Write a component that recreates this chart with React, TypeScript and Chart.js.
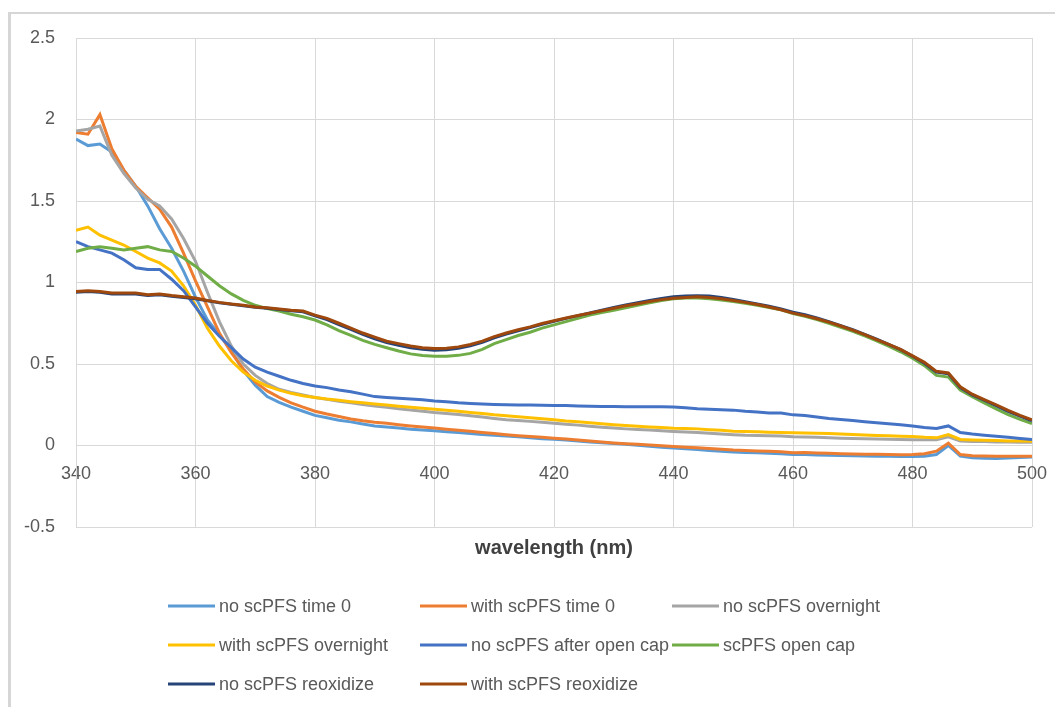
import React, { useEffect, useRef } from "react";
import { Chart, registerables } from "chart.js";

Chart.register(...registerables);

// ---------- DATA ----------
const wavelengths = [
  340, 342, 344, 346, 348, 350, 352, 354, 356,
  358, 360, 362, 364, 366, 368, 370, 372, 374,
  376, 378, 380, 382, 384, 386, 388, 390, 392,
  394, 396, 398, 400, 402, 404, 406, 408, 410,
  412, 414, 416, 418, 420, 422, 424, 426, 428,
  430, 432, 434, 436, 438, 440, 442, 444, 446,
  448, 450, 452, 454, 456, 458, 460, 462, 464,
  466, 468, 470, 472, 474, 476, 478, 480, 482,
  484, 486, 488, 490, 492, 494, 496, 498, 500,
];

const noScPFSTime0 = [
  1.88, 1.84, 1.85, 1.80, 1.69, 1.59, 1.47, 1.33, 1.21,
  1.07, 0.91, 0.77, 0.68, 0.58, 0.46, 0.37, 0.30, 0.265,
  0.235, 0.21, 0.185, 0.17, 0.155, 0.145, 0.132, 0.12, 0.113,
  0.107, 0.1, 0.095, 0.09, 0.085, 0.08, 0.073, 0.068, 0.063,
  0.058, 0.053, 0.047, 0.042, 0.038, 0.033, 0.027, 0.022, 0.017,
  0.012, 0.007, 0.002, -0.004, -0.01, -0.015, -0.02, -0.025, -0.03,
  -0.035, -0.04, -0.043, -0.045, -0.047, -0.05, -0.055, -0.055, -0.058,
  -0.06, -0.062, -0.063, -0.064, -0.066, -0.066, -0.068, -0.068, -0.066,
  -0.055, 0.0, -0.065, -0.075, -0.078, -0.08, -0.076, -0.073, -0.07,
];

const withScPFSTime0 = [
  1.92, 1.91, 2.03, 1.82, 1.69, 1.59, 1.52, 1.45, 1.34,
  1.18, 1.01, 0.85, 0.69, 0.57, 0.47, 0.39, 0.335, 0.295,
  0.262, 0.235, 0.21, 0.193, 0.178, 0.163, 0.152, 0.143, 0.136,
  0.128, 0.12, 0.113, 0.107, 0.1, 0.093, 0.087, 0.08, 0.073,
  0.066, 0.06, 0.055, 0.05, 0.045, 0.04, 0.034, 0.028, 0.022,
  0.016, 0.011, 0.007, 0.003, -0.002, -0.006, -0.01, -0.014, -0.018,
  -0.023, -0.028, -0.031, -0.034, -0.036, -0.038, -0.044, -0.043, -0.046,
  -0.048, -0.05, -0.052, -0.053, -0.054, -0.055, -0.056, -0.055, -0.05,
  -0.035, 0.015, -0.055, -0.063, -0.065, -0.066, -0.066, -0.066, -0.066,
];

const noScPFSOvernight = [
  1.93, 1.94, 1.96, 1.78, 1.67, 1.58, 1.51, 1.47, 1.39,
  1.27, 1.13, 0.94, 0.76, 0.61, 0.5, 0.43, 0.38, 0.345,
  0.325, 0.31, 0.295, 0.283, 0.272, 0.262, 0.252, 0.243, 0.234,
  0.225, 0.218, 0.21, 0.202, 0.196, 0.19, 0.182, 0.175, 0.166,
  0.158, 0.153, 0.148, 0.142, 0.137, 0.13, 0.125, 0.118, 0.112,
  0.107, 0.102, 0.098, 0.095, 0.09, 0.086, 0.083, 0.08, 0.075,
  0.07, 0.066, 0.063, 0.062, 0.06, 0.058, 0.054, 0.052, 0.05,
  0.047, 0.045, 0.043, 0.041, 0.04, 0.038, 0.037, 0.036, 0.035,
  0.036, 0.053, 0.028, 0.025, 0.024, 0.022, 0.021, 0.02, 0.02,
];

const withScPFSOvernight = [
  1.32, 1.34, 1.29, 1.26, 1.23, 1.19, 1.15, 1.12, 1.07,
  0.98, 0.86, 0.72, 0.61, 0.52, 0.45, 0.4, 0.365, 0.34,
  0.32, 0.305, 0.295, 0.285, 0.277, 0.269, 0.262, 0.255, 0.248,
  0.241, 0.235, 0.228, 0.222, 0.216, 0.21, 0.203, 0.196, 0.188,
  0.182, 0.176, 0.17, 0.164, 0.158, 0.15, 0.145, 0.14, 0.134,
  0.128, 0.123, 0.118, 0.114, 0.11, 0.106, 0.104, 0.102, 0.097,
  0.093, 0.088, 0.086, 0.084, 0.082, 0.08, 0.078, 0.076, 0.075,
  0.074, 0.071, 0.068, 0.065, 0.062, 0.06, 0.057, 0.055, 0.05,
  0.047, 0.067, 0.037, 0.034, 0.032, 0.03, 0.028, 0.027, 0.026,
];

const noScPFSAfterOpenCap = [
  1.25, 1.22, 1.2, 1.18, 1.14, 1.09, 1.08, 1.08, 1.02,
  0.95, 0.85, 0.75, 0.67, 0.6, 0.53, 0.48, 0.45, 0.425,
  0.4, 0.38, 0.365, 0.355, 0.34, 0.33, 0.315, 0.3, 0.295,
  0.29, 0.285, 0.28, 0.273, 0.268, 0.262, 0.258, 0.255, 0.252,
  0.25, 0.249, 0.248, 0.247, 0.246, 0.245, 0.243, 0.241, 0.24,
  0.239, 0.238, 0.238, 0.238, 0.237, 0.236, 0.232, 0.225, 0.222,
  0.22, 0.217, 0.21, 0.205, 0.2, 0.2, 0.188, 0.184, 0.175,
  0.166, 0.16, 0.153, 0.146, 0.14, 0.134, 0.128, 0.12, 0.11,
  0.104, 0.12, 0.08, 0.07, 0.063, 0.057, 0.05, 0.043, 0.037,
];

const scPFSOpenCap = [
  1.19, 1.21, 1.22, 1.21, 1.2, 1.21, 1.22, 1.2, 1.19,
  1.15, 1.1, 1.04, 0.98, 0.93, 0.89, 0.86, 0.84, 0.825,
  0.805, 0.79, 0.77, 0.74, 0.705, 0.675, 0.645, 0.62, 0.6,
  0.58, 0.562, 0.552, 0.548, 0.548, 0.553, 0.565, 0.59, 0.625,
  0.65, 0.675, 0.695, 0.72, 0.74, 0.76, 0.78, 0.8, 0.815,
  0.83, 0.845, 0.86, 0.875, 0.89, 0.9, 0.905, 0.905, 0.9,
  0.893, 0.883, 0.872, 0.86, 0.847, 0.832, 0.81, 0.792, 0.772,
  0.75, 0.725, 0.7, 0.672, 0.642, 0.61, 0.575, 0.535, 0.49,
  0.43, 0.42, 0.34, 0.3, 0.262, 0.225, 0.19, 0.16, 0.135,
];

const noScPFSReoxidize = [
  0.94, 0.945, 0.94, 0.93, 0.93, 0.93, 0.92, 0.925, 0.915,
  0.908, 0.9, 0.888, 0.875, 0.866, 0.858, 0.848, 0.842, 0.835,
  0.827, 0.82, 0.795, 0.772, 0.742, 0.712, 0.682, 0.655, 0.632,
  0.615, 0.6, 0.59, 0.585, 0.588, 0.597, 0.612, 0.633, 0.66,
  0.683, 0.703, 0.723, 0.743, 0.762, 0.78, 0.797, 0.813, 0.83,
  0.847, 0.862, 0.876, 0.89, 0.902, 0.912, 0.917, 0.918, 0.917,
  0.908, 0.896, 0.882, 0.869, 0.855, 0.838, 0.818, 0.802, 0.783,
  0.76, 0.735, 0.71, 0.682, 0.652, 0.62, 0.588, 0.548, 0.505,
  0.45, 0.44, 0.355, 0.31, 0.278, 0.245, 0.21, 0.18, 0.152,
];

const withScPFSReoxidize = [
  0.945, 0.95, 0.945, 0.935, 0.935, 0.935, 0.925, 0.93, 0.92,
  0.912, 0.905, 0.89, 0.878, 0.868, 0.86, 0.85, 0.845, 0.838,
  0.83, 0.825, 0.8, 0.78, 0.75, 0.72, 0.69, 0.665, 0.64,
  0.625, 0.61, 0.6, 0.595, 0.597, 0.605, 0.62, 0.64, 0.668,
  0.69, 0.71, 0.728, 0.748, 0.765, 0.782, 0.797, 0.812, 0.827,
  0.842, 0.857, 0.87, 0.883, 0.895, 0.903, 0.908, 0.912, 0.908,
  0.9, 0.89, 0.878, 0.865, 0.85, 0.833, 0.812, 0.797, 0.778,
  0.757, 0.733, 0.708, 0.68, 0.65, 0.62, 0.59, 0.55, 0.51,
  0.455, 0.445, 0.36, 0.315, 0.282, 0.25, 0.215, 0.185, 0.158,
];

const seriesNames = [
  "no scPFS time 0",
  "with scPFS time 0",
  "no scPFS overnight",
  "with scPFS overnight",
  "no scPFS after open cap",
  "scPFS open cap",
  "no scPFS reoxidize",
  "with scPFS reoxidize",
];

const seriesValues = [
  noScPFSTime0,
  withScPFSTime0,
  noScPFSOvernight,
  withScPFSOvernight,
  noScPFSAfterOpenCap,
  scPFSOpenCap,
  noScPFSReoxidize,
  withScPFSReoxidize,
];

const seriesColors = [
  "#5B9BD5",
  "#ED7D31",
  "#A5A5A5",
  "#FFC000",
  "#4472C4",
  "#70AD47",
  "#264478",
  "#9E480E",
];

const xTickValues = [340, 360, 380, 400, 420, 440, 460, 480, 500];
const xTickLabels = ["340", "360", "380", "400", "420", "440", "460", "480", "500"];
const yTickValues = [-0.5, 0, 0.5, 1, 1.5, 2, 2.5];
const yTickLabels = ["-0.5", "0", "0.5", "1", "1.5", "2", "2.5"];
const xAxisTitle = "wavelength (nm)";

// ---------- STYLE ----------
const FONT = "'Liberation Sans', Arial, sans-serif";
const GRID = "#d9d9d9";
const TEXT = "#595959";

const bottomDecor = {
  id: "bottomDecor",
  afterDraw(chart: any) {
    const { ctx, chartArea } = chart;
    ctx.save();
    ctx.fillStyle = "#404040";
    ctx.font = `bold 20px ${FONT}`;
    ctx.textAlign = "center";
    ctx.textBaseline = "middle";
    ctx.fillText(xAxisTitle, (chartArea.left + chartArea.right) / 2, chartArea.bottom + 21);

    ctx.font = `18px ${FONT}`;
    ctx.textAlign = "left";
    ctx.fillStyle = TEXT;
    chart.data.datasets.forEach((ds: any, i: number) => {
      const col = i % 3;
      const row = Math.floor(i / 3);
      const x = 168 + col * 252;
      const y = 606 + row * 39;
      ctx.strokeStyle = ds.borderColor;
      ctx.lineWidth = 3;
      ctx.beginPath();
      ctx.moveTo(x, y);
      ctx.lineTo(x + 47, y);
      ctx.stroke();
      ctx.fillText(ds.label, x + 51, y + 1);
    });
    ctx.restore();
  },
};

export default function App() {
  const canvasRef = useRef<HTMLCanvasElement | null>(null);

  useEffect(() => {
    document.body.style.margin = "0";
    document.body.style.overflow = "hidden";
    const canvas = canvasRef.current;
    if (!canvas) return;

    const datasets = seriesValues.map((vals, i) => ({
      label: seriesNames[i],
      data: vals.map((v, j) => ({ x: wavelengths[j], y: v })),
      borderColor: seriesColors[i],
      backgroundColor: seriesColors[i],
      borderWidth: 3,
      pointRadius: 0,
      tension: 0,
      fill: false,
      order: seriesValues.length - 1 - i,
    }));

    const chart = new Chart(canvas, {
      type: "line",
      data: { datasets },
      options: {
        animation: false,
        responsive: false,
        maintainAspectRatio: false,
        layout: { padding: { top: 38, right: 23, bottom: 180, left: 0 } },
        plugins: {
          legend: { display: false },
          tooltip: { enabled: false },
          title: { display: false },
        },
        scales: {
          x: {
            type: "linear",
            position: { y: 0 } as any,
            min: 340,
            max: 500,
            afterBuildTicks: (scale: any) => {
              scale.ticks = xTickValues.map((v) => ({ value: v }));
            },
            afterFit: (scale: any) => {
              scale.paddingLeft = 0;
              scale.paddingRight = 0;
            },
            ticks: {
              color: TEXT,
              font: { family: FONT, size: 18 },
              padding: 18,
              maxRotation: 0,
              callback: (v: any) => {
                const k = xTickValues.indexOf(Number(v));
                return k >= 0 ? xTickLabels[k] : "";
              },
            },
            grid: { color: GRID, lineWidth: 1, drawTicks: false },
            border: { color: GRID, width: 1 },
          },
          y: {
            type: "linear",
            min: -0.5,
            max: 2.5,
            afterBuildTicks: (scale: any) => {
              scale.ticks = yTickValues.map((v) => ({ value: v }));
            },
            afterFit: (scale: any) => {
              scale.width = 76;
            },
            ticks: {
              color: TEXT,
              font: { family: FONT, size: 18 },
              padding: 21,
              callback: (v: any) => {
                const k = yTickValues.indexOf(Number(v));
                return k >= 0 ? yTickLabels[k] : "";
              },
            },
            grid: { color: GRID, lineWidth: 1, drawTicks: false },
            border: { color: GRID, width: 1 },
          },
        },
      },
      plugins: [bottomDecor],
    });

    return () => chart.destroy();
  }, []);

  return (
    <div style={{ position: "relative", width: 1055, height: 707, background: "#fff", overflow: "hidden" }}>
      <div
        style={{
          position: "absolute",
          left: 8,
          top: 12,
          right: 0,
          bottom: 0,
          borderTop: "2px solid #d6d6d6",
          borderLeft: "3px solid #d6d6d6",
        }}
      />
      <canvas
        ref={canvasRef}
        width={1055}
        height={707}
        style={{ position: "absolute", left: 0, top: 0, display: "block", width: 1055, height: 707 }}
      />
    </div>
  );
}
